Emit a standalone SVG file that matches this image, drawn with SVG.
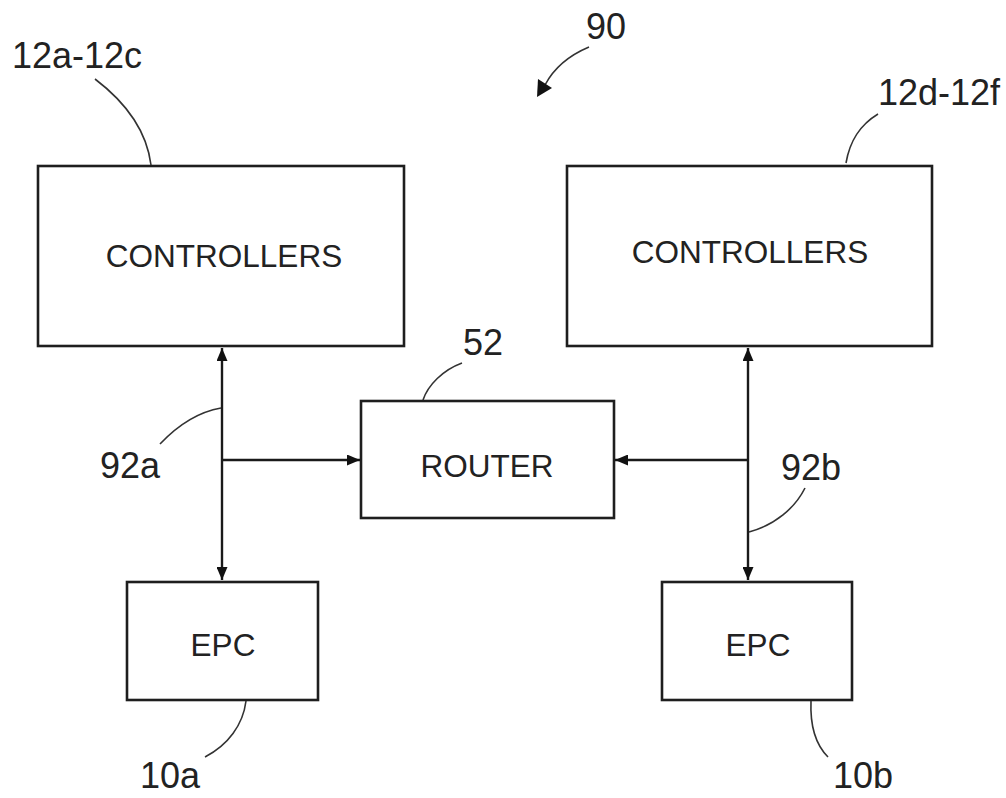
<svg xmlns="http://www.w3.org/2000/svg" width="1006" height="798" viewBox="0 0 1006 798">
  <style>
    .box { fill: #fff; stroke: #1e1e1e; stroke-width: 2.6; }
    .lbl { font-family: "Liberation Sans", Arial, sans-serif; font-size: 31.5px; fill: #222; text-anchor: middle; }
    .ref { font-family: "Liberation Sans", Arial, sans-serif; font-size: 36px; fill: #222; }
    .lead { fill: none; stroke: #333; stroke-width: 1.6; }
    .wire { fill: none; stroke: #1a1a1a; stroke-width: 2.4; }
  </style>
  <defs>
    <marker id="ah" viewBox="0 0 13 11" refX="13" refY="5.5" markerWidth="13" markerHeight="11" markerUnits="userSpaceOnUse" orient="auto-start-reverse">
      <path d="M0,0 L13,5.5 L0,11 Z" fill="#111"/>
    </marker>
  </defs>
  <rect width="1006" height="798" fill="#fff"/>

  <g id="ctrl-left">
    <rect class="box" x="38" y="166" width="366" height="180"/>
    <text class="lbl" x="224" y="267">CONTROLLERS</text>
  </g>
  <g id="ctrl-right">
    <rect class="box" x="567" y="166" width="365" height="180"/>
    <text class="lbl" x="750" y="263">CONTROLLERS</text>
  </g>
  <g id="router">
    <rect class="box" x="361" y="401" width="253" height="117"/>
    <text class="lbl" x="487" y="477">ROUTER</text>
  </g>
  <g id="epc-left">
    <rect class="box" x="127" y="582" width="191" height="118"/>
    <text class="lbl" x="223" y="656">EPC</text>
  </g>
  <g id="epc-right">
    <rect class="box" x="662" y="582" width="190" height="118"/>
    <text class="lbl" x="758" y="656">EPC</text>
  </g>

  <g id="connectors">
    <path class="wire" d="M222,348 L222,580" marker-start="url(#ah)" marker-end="url(#ah)"/>
    <path class="wire" d="M222,460 L360,460" marker-end="url(#ah)"/>
    <path class="wire" d="M748,348 L748,580" marker-start="url(#ah)" marker-end="url(#ah)"/>
    <path class="wire" d="M748,460 L615,460" marker-end="url(#ah)"/>
  </g>

  <g id="labels">
    <text class="ref" x="12" y="68">12a-12c</text>
    <path class="lead" d="M95,79 C120,98 146,125 151,165"/>
    <text class="ref" x="586" y="39">90</text>
    <path class="lead" d="M589,47 C570,55 555,66 545,85" stroke-width="2"/>
    <path d="M537,97 L538,79 L552,88 Z" fill="#111"/>
    <text class="ref" x="878" y="105">12d-12f</text>
    <path class="lead" d="M878,114 C860,125 850,140 846,163"/>
    <text class="ref" x="463" y="355">52</text>
    <path class="lead" d="M462,363 C443,370 428,385 423,400"/>
    <text class="ref" x="100" y="478">92a</text>
    <path class="lead" d="M160,444 C178,425 198,412 221,408"/>
    <text class="ref" x="781" y="480">92b</text>
    <path class="lead" d="M805,488 C795,508 775,525 749,532"/>
    <path class="lead" d="M246,701 C243,725 228,745 205,757"/>
    <text class="ref" x="140" y="788">10a</text>
    <path class="lead" d="M811,701 C810,725 816,745 828,757"/>
    <text class="ref" x="833" y="788">10b</text>
  </g>
</svg>
